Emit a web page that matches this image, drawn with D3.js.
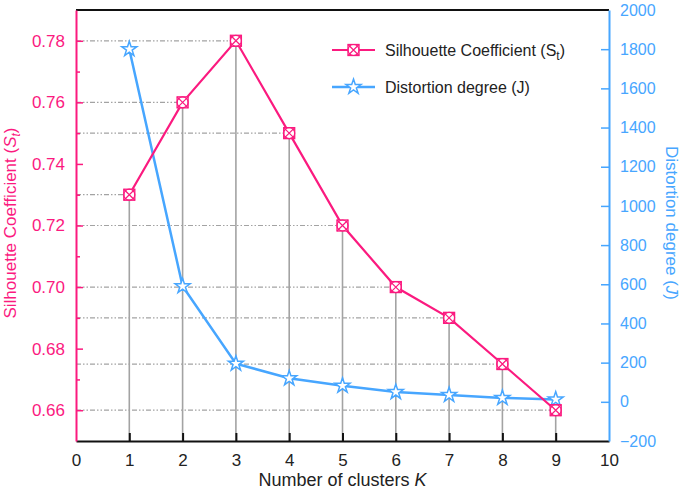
<!DOCTYPE html>
<html>
<head>
<meta charset="utf-8">
<script src="https://cdn.jsdelivr.net/npm/d3@7"></script>
<style>
  body { margin: 0; background: #fff; }
  svg text { font-family: "Liberation Sans", Arial, sans-serif; }
</style>
</head>
<body>
<div id="chart"></div>
<script>
// data
var clusters = [1, 2, 3, 4, 5, 6, 7, 8, 9];
var silhouette = [0.73, 0.76, 0.78, 0.75, 0.72, 0.70, 0.69, 0.675, 0.66];
var distortion = [1800, 590, 195, 120, 82, 50, 35, 20, 12];

var xTicks = [0, 1, 2, 3, 4, 5, 6, 7, 8, 9, 10];
var sTicks = [0.66, 0.68, 0.70, 0.72, 0.74, 0.76, 0.78];
var sMinorTicks = [0.67, 0.69, 0.71, 0.73, 0.75, 0.77];
var jTicks = [-200, 0, 200, 400, 600, 800, 1000, 1200, 1400, 1600, 1800, 2000];

var colors = {
  pink: "#fb1a7f",
  blue: "#47a6ff",
  grid: "#a3a3a3",
  axis: "#111"
};

var W = 685, H = 491;
var margin = { top: 10, right: 76, bottom: 50, left: 76 };
var width = W - margin.left - margin.right;
var height = H - margin.top - margin.bottom;

var svg = d3.select("#chart").append("svg")
  .attr("width", W)
  .attr("height", H);

var g = svg.append("g")
  .attr("transform", "translate(" + margin.left + "," + margin.top + ")");

var x = d3.scaleLinear().domain([0, 10]).range([0, width]);
var yS = d3.scaleLinear().domain([0.65, 0.79]).range([height, 0]);
var yJ = d3.scaleLinear().domain([-200, 2000]).range([height, 0]);

var pts = clusters.map(function(k, i) {
  return { k: k, s: silhouette[i], j: distortion[i] };
});

// dash-dot guide lines from the left axis to each silhouette point
g.selectAll(".hguide").data(pts).enter().append("line")
  .attr("class", "hguide")
  .attr("x1", 0)
  .attr("x2", function(d) { return x(d.k); })
  .attr("y1", function(d) { return yS(d.s); })
  .attr("y2", function(d) { return yS(d.s); })
  .attr("stroke", colors.grid)
  .attr("stroke-width", 1.2)
  .attr("stroke-dasharray", "5,2,1.5,2,1.5,2");

// vertical drop lines from each silhouette point
g.selectAll(".vguide").data(pts).enter().append("line")
  .attr("class", "vguide")
  .attr("x1", function(d) { return x(d.k); })
  .attr("x2", function(d) { return x(d.k); })
  .attr("y1", function(d) { return yS(d.s); })
  .attr("y2", height)
  .attr("stroke", colors.grid)
  .attr("stroke-width", 1.6);

// frame: top black
g.append("line")
  .attr("x1", 0).attr("x2", width).attr("y1", 0).attr("y2", 0)
  .attr("stroke", colors.axis).attr("stroke-width", 2);

// bottom axis
var xAxis = g.append("g")
  .attr("transform", "translate(0," + height + ")")
  .call(d3.axisBottom(x).tickValues(xTicks).tickSize(-8).tickSizeOuter(0).tickPadding(13));
xAxis.select(".domain").attr("stroke", colors.axis).attr("stroke-width", 2);
xAxis.selectAll(".tick line").attr("stroke", colors.axis).attr("stroke-width", 2)
  .filter(function(d) { return d === 0 || d === 10; }).remove();
xAxis.selectAll("text").attr("font-size", 17).attr("fill", "#222");

// left axis (silhouette)
var sMinor = g.append("g")
  .call(d3.axisLeft(yS).tickValues(sMinorTicks).tickSize(-4).tickSizeOuter(0).tickFormat(""));
sMinor.select(".domain").remove();
sMinor.selectAll(".tick line").attr("stroke", colors.pink).attr("stroke-width", 1.5);

var sAxis = g.append("g")
  .call(d3.axisLeft(yS).tickValues(sTicks).tickSize(-7).tickSizeOuter(0).tickPadding(11)
    .tickFormat(d3.format(".2f")));
sAxis.select(".domain").attr("stroke", colors.pink).attr("stroke-width", 2);
sAxis.selectAll(".tick line").attr("stroke", colors.pink).attr("stroke-width", 1.5);
sAxis.selectAll("text").attr("font-size", 17).attr("fill", colors.pink);

// right axis (distortion)
var jAxis = g.append("g")
  .attr("transform", "translate(" + width + ",0)")
  .call(d3.axisRight(yJ).tickValues(jTicks).tickSize(-8).tickSizeOuter(0).tickPadding(11)
    .tickFormat(d3.format("d")));
jAxis.select(".domain").attr("stroke", colors.blue).attr("stroke-width", 2);
jAxis.selectAll(".tick line").attr("stroke", colors.blue).attr("stroke-width", 1.5)
  .filter(function(d) { return d === -200 || d === 2000; }).remove();
jAxis.selectAll("text").attr("font-size", 16).attr("fill", colors.blue);

// distortion line
var lineJ = d3.line()
  .x(function(d) { return x(d.k); })
  .y(function(d) { return yJ(d.j); });
g.append("path").datum(pts)
  .attr("d", lineJ)
  .attr("fill", "none")
  .attr("stroke", colors.blue)
  .attr("stroke-width", 2.5);

// silhouette line
var lineS = d3.line()
  .x(function(d) { return x(d.k); })
  .y(function(d) { return yS(d.s); });
g.append("path").datum(pts)
  .attr("d", lineS)
  .attr("fill", "none")
  .attr("stroke", colors.pink)
  .attr("stroke-width", 2.2);

var star = d3.symbol().type(d3.symbolStar).size(70);

function drawStar(sel) {
  sel.append("path")
    .attr("d", star)
    .attr("fill", "#fff")
    .attr("stroke", colors.blue)
    .attr("stroke-width", 1.5);
}

function drawBoxMarker(sel) {
  var r = 5.5;
  sel.append("rect")
    .attr("x", -r).attr("y", -r).attr("width", 2 * r).attr("height", 2 * r)
    .attr("fill", "#fff").attr("stroke", colors.pink).attr("stroke-width", 1.3);
  sel.append("circle")
    .attr("r", r).attr("fill", "none").attr("stroke", colors.pink).attr("stroke-width", 1.2);
  sel.append("path")
    .attr("d", "M" + (-r) + "," + (-r) + "L" + r + "," + r + "M" + r + "," + (-r) + "L" + (-r) + "," + r)
    .attr("stroke", colors.pink).attr("stroke-width", 1.2);
}

g.selectAll(".jpt").data(pts).enter().append("g")
  .attr("class", "jpt")
  .attr("transform", function(d) { return "translate(" + x(d.k) + "," + yJ(d.j) + ")"; })
  .call(drawStar);

g.selectAll(".spt").data(pts).enter().append("g")
  .attr("class", "spt")
  .attr("transform", function(d) { return "translate(" + x(d.k) + "," + yS(d.s) + ")"; })
  .each(function() { drawBoxMarker(d3.select(this)); });

// legend
var legend = svg.append("g").attr("transform", "translate(332,50)");
legend.append("line").attr("x1", 0).attr("x2", 43).attr("y1", 0).attr("y2", 0)
  .attr("stroke", colors.pink).attr("stroke-width", 2.2);
drawBoxMarker(legend.append("g").attr("transform", "translate(21.5,0)"));
var t1 = legend.append("text").attr("x", 53).attr("y", 6)
  .attr("font-size", 16).attr("fill", "#222");
t1.append("tspan").text("Silhouette Coefficient (S");
t1.append("tspan").attr("font-size", 12).attr("dy", 4).text("t");
t1.append("tspan").attr("dy", -4).text(")");

var legend2 = svg.append("g").attr("transform", "translate(332,87)");
legend2.append("line").attr("x1", 0).attr("x2", 43).attr("y1", 0).attr("y2", 0)
  .attr("stroke", colors.blue).attr("stroke-width", 2.5);
drawStar(legend2.append("g").attr("transform", "translate(21.5,0)"));
legend2.append("text").attr("x", 53).attr("y", 6)
  .attr("font-size", 16).attr("fill", "#222")
  .text("Distortion degree (J)");

// axis titles
var ly = svg.append("text")
  .attr("transform", "translate(16," + (margin.top + 213) + ") rotate(-90)")
  .attr("text-anchor", "middle")
  .attr("font-size", 17)
  .attr("fill", colors.pink);
ly.append("tspan").text("Silhouette Coefficient (");
ly.append("tspan").attr("font-style", "italic").text("S");
ly.append("tspan").attr("font-style", "italic").attr("font-size", 12).attr("dy", 4).text("t");
ly.append("tspan").attr("dy", -4).text(")");

var ry = svg.append("text")
  .attr("transform", "translate(666," + (margin.top + 213) + ") rotate(90)")
  .attr("text-anchor", "middle")
  .attr("font-size", 17)
  .attr("fill", colors.blue);
ry.append("tspan").text("Distortion degree (");
ry.append("tspan").attr("font-style", "italic").text("J");
ry.append("tspan").text(")");

var lx = svg.append("text")
  .attr("x", margin.left + x(5))
  .attr("y", 486)
  .attr("text-anchor", "middle")
  .attr("font-size", 18)
  .attr("fill", "#222");
lx.append("tspan").text("Number of clusters ");
lx.append("tspan").attr("font-style", "italic").text("K");
</script>
</body>
</html>
